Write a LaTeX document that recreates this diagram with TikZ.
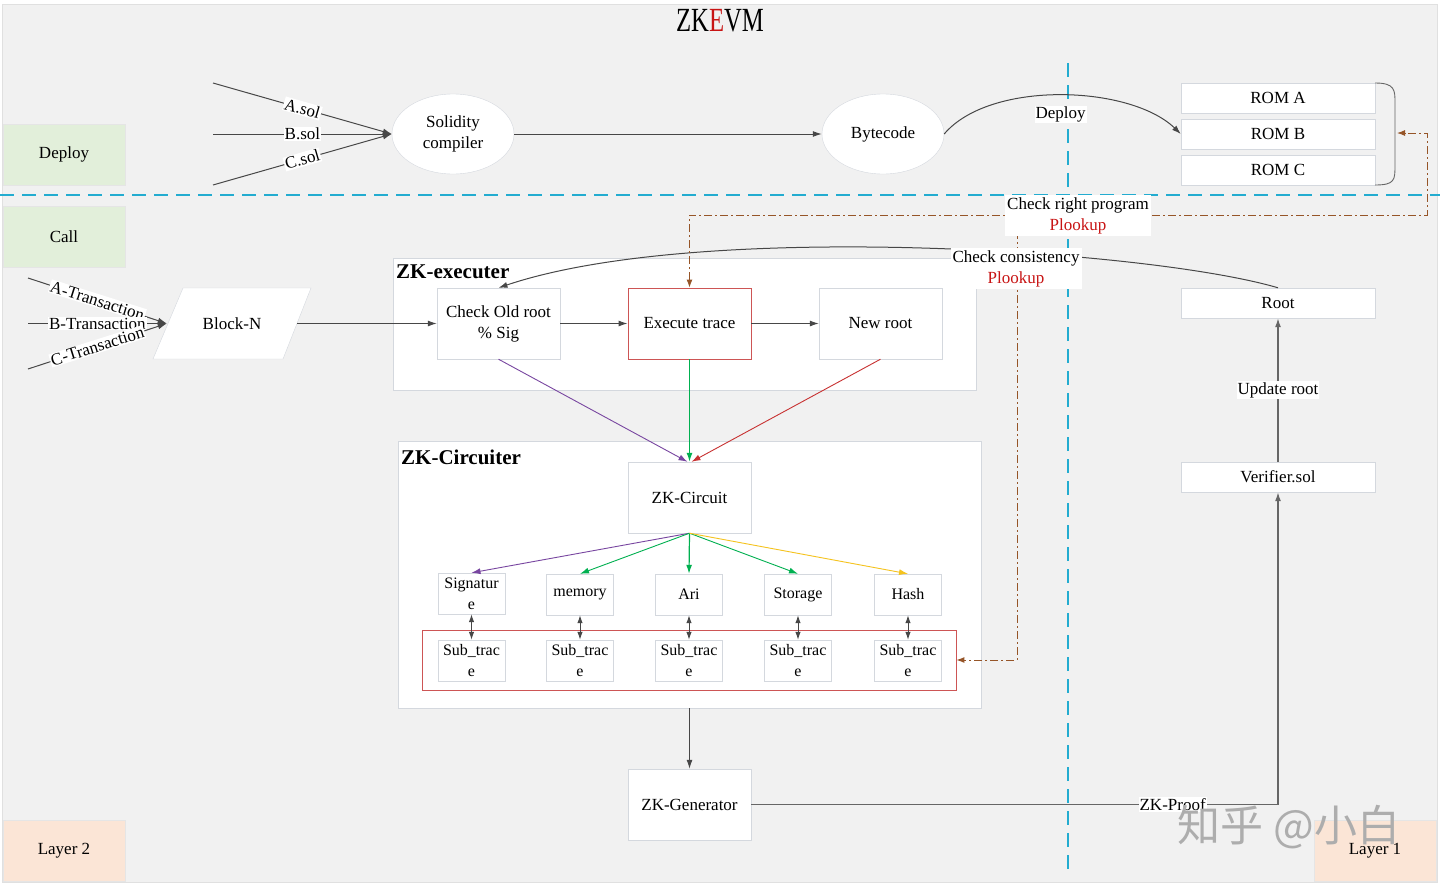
\documentclass[tikz,border=0pt]{standalone}
\usepackage{fontspec}
\usepackage{graphicx}
\setmainfont{Liberation Serif}
\newfontfamily\cjk{Noto Sans CJK SC}
\usetikzlibrary{arrows.meta,shapes.geometric}
\definecolor{bgc}{RGB}{241,241,241}
\definecolor{boxline}{RGB}{212,216,222}
\definecolor{execred}{RGB}{205,85,85}
\definecolor{brn}{RGB}{150,85,40}
\definecolor{cyanl}{RGB}{35,172,208}
\definecolor{greenf}{RGB}{226,239,218}
\definecolor{peach}{RGB}{251,229,214}
\definecolor{plk}{RGB}{200,20,20}
\definecolor{purp}{RGB}{120,70,160}
\definecolor{grn}{RGB}{0,176,80}
\definecolor{redl}{RGB}{200,50,50}
\definecolor{yel}{RGB}{245,195,30}
\newcommand\fs{\fontsize{17}{21}\selectfont}
\begin{document}
\begin{tikzpicture}[x=1pt,y=-1pt,
  font=\fs,
  tip/.style={-{Latex[length=9pt,width=6pt]}},
  dtip/.style={{Latex[length=8pt,width=5.5pt]}-{Latex[length=8pt,width=5.5pt]}},
  conn/.style={draw=black!72, line width=1pt},
  bigbox/.style={draw=boxline, fill=white, minimum width=123, minimum height=71, align=center, inner sep=1pt},
  smallbox/.style={draw=boxline, fill=white, minimum width=67, minimum height=41, align=center, inner sep=0pt, font=\fontsize{16}{21}\selectfont},
  rombox/.style={draw=boxline, fill=white, minimum width=194, minimum height=30, inner sep=1pt},
  ell/.style={ellipse, draw=boxline, fill=white, minimum width=122, minimum height=80, align=center, inner sep=0pt},
  side/.style={draw=black!10, minimum width=122, minimum height=61, inner sep=1pt},
  cont/.style={draw=boxline, fill=white, inner sep=0pt},
  lbl/.style={fill=white, inner sep=1pt},
  lbl2/.style={fill=white, inner sep=2pt, align=center, font=\fontsize{17}{21}\selectfont},
  cyandash/.style={draw=cyanl, line width=2pt, dash pattern=on 14pt off 8pt},
  brnline/.style={draw=brn, line width=1pt, dash pattern=on 8pt off 3pt on 2pt off 3pt},
  brntip/.style={-{Latex[length=8pt,width=6pt]}},
  ctitle/.style={font=\bfseries\fontsize{21}{24}\selectfont, anchor=west, inner sep=0pt}
]
\useasboundingbox (0,0) rectangle (1440,886);
\fill[white] (0,0) rectangle (1440,886);
\draw[fill=bgc, draw=black!12] (2,4) rectangle (1437,882);

% title
\node (title) at (720,21) {\fontsize{26}{30}\selectfont\scalebox{0.95}[1.3]{ZK\textcolor{plk}{E}VM}};

% side boxes
\node[side, fill=greenf] (deploy) at (64,154.5) {Deploy};
\node[side, fill=greenf] (call) at (64,236.5) {Call};
\node[side, fill=peach] (l2) at (64,851) {Layer 2};
\node[side, fill=peach] (l1) at (1375,851) {Layer 1};

% dividers
\draw[cyandash] (0,195) -- (1440,195);
\draw[cyandash] (1068,63) -- (1068,875);

% containers
\node[cont, minimum width=583, minimum height=132] (exe) at (684.5,324) {};
\node[ctitle] (exet) at (396,272) {ZK-executer};
\node[cont, minimum width=583, minimum height=267] (cir) at (689.5,574.5) {};
\node[ctitle] (cirt) at (401,457) {ZK-Circuiter};
\node[draw=execred, line width=0.9pt, minimum width=534, minimum height=60, inner sep=0pt] (subs) at (689,660) {};

% ellipses
\node[ell] (sol) at (453,134) {Solidity\\compiler};
\node[ell] (byte) at (883,134) {Bytecode};

% ROMs
\node[rombox] (roma) at (1278,98) {ROM A};
\node[rombox] (romb) at (1278,134) {ROM B};
\node[rombox] (romc) at (1278,170) {ROM C};
\draw[draw=black!60, line width=0.9pt] (1375,83) .. controls (1395,83) and (1395,90) .. (1395,103) -- (1395,165) .. controls (1395,180) and (1395,185) .. (1375,185);
\coordinate (brk) at (1397,133);

% layer 1 boxes
\node[rombox] (root) at (1278,303) {Root};
\node[rombox] (ver) at (1278,477) {Verifier.sol};

% executer
\node[bigbox] (old) at (498.5,323.5) {Check Old root\\\% Sig};
\node[bigbox, draw=execred, line width=0.9pt] (exec) at (689.5,323.5) {Execute trace};
\node[bigbox] (newr) at (880.5,323.5) {New root};

% block
\draw[draw=boxline, fill=white] (183,288) -- (311,288) -- (283,359) -- (153,359) -- cycle;
\node[minimum width=130, minimum height=71, inner sep=0pt] (blk) at (232,323.5) {Block-N};

% circuiter
\node[bigbox] (circ) at (689.5,497.5) {ZK-Circuit};
\node[smallbox] (sig) at (471.5,593.5) {Signatur\\e};
\node[smallbox] (mem) at (580,594.5) {memory};
\node[smallbox] (ari) at (689,594.5) {Ari};
\node[smallbox] (sto) at (798,594.5) {Storage};
\node[smallbox] (hash) at (908,594.5) {Hash};
\node[smallbox] (s1) at (471.5,660.5) {Sub\_trac\\e};
\node[smallbox] (s2) at (580,660.5) {Sub\_trac\\e};
\node[smallbox] (s3) at (689,660.5) {Sub\_trac\\e};
\node[smallbox] (s4) at (798,660.5) {Sub\_trac\\e};
\node[smallbox] (s5) at (908,660.5) {Sub\_trac\\e};

% generator
\node[bigbox] (gen) at (689.5,804.5) {ZK-Generator};

% inputs to solidity compiler
\coordinate (a1) at (213,83);
\coordinate (b1) at (213,134);
\coordinate (c1) at (213,185);
\draw[conn, tip] (a1) -- (sol.west) node[lbl, pos=0.5, rotate=-16] {A.sol};
\draw[conn, tip] (b1) -- (sol.west) node[lbl, pos=0.5] {B.sol};
\draw[conn, tip] (c1) -- (sol.west) node[lbl, pos=0.5, rotate=16] {C.sol};
\draw[conn, tip] (sol.east) -- (byte.west);
\draw[conn, tip] (byte.east) .. controls (990,80) and (1130,85) .. (romb.west) node[lbl, pos=0.5, below=10pt] {Deploy};

% transactions
\coordinate (ta) at (28,278);
\coordinate (tb) at (28,323.5);
\coordinate (tc) at (28,369);
\draw[conn, tip] (ta) -- (blk.west) node[lbl, pos=0.5, rotate=-17.5] {A-Transaction};
\draw[conn, tip] (tb) -- (blk.west) node[lbl, pos=0.5] {B-Transaction};
\draw[conn, tip] (tc) -- (blk.west) node[lbl, pos=0.5, rotate=17.5] {C-Transaction};

% executer flow
\draw[conn, tip] (blk.east) -- (old.west);
\draw[conn, tip] (old.east) -- (exec.west);
\draw[conn, tip] (exec.east) -- (newr.west);
\draw[draw=purp, line width=0.9pt, tip] (old.south) -- ([xshift=-2pt]circ.north);
\draw[draw=redl, line width=0.9pt, tip] (newr.south) -- ([xshift=2pt]circ.north);
\draw[draw=grn, line width=1.3pt, tip] (exec.south) -- (circ.north);

% circuit fan-out
\draw[draw=purp, line width=0.9pt, tip] (circ.south) -- (sig.north);
\draw[draw=grn, line width=0.9pt, tip] (circ.south) -- (mem.north);
\draw[draw=grn, line width=1.2pt, tip] (circ.south) -- (ari.north);
\draw[draw=grn, line width=0.9pt, tip] (circ.south) -- (sto.north);
\draw[draw=yel, line width=0.9pt, tip] (circ.south) -- (hash.north);
\draw[conn, dtip] (sig.south) -- (s1.north);
\draw[conn, dtip] (mem.south) -- (s2.north);
\draw[conn, dtip] (ari.south) -- (s3.north);
\draw[conn, dtip] (sto.south) -- (s4.north);
\draw[conn, dtip] (hash.south) -- (s5.north);

% generator and proof
\draw[conn, tip] (cir.south) -- (gen.north);
\draw[conn, tip, line width=1.4pt, draw=black!60] (gen.east) -| node[lbl, pos=0.4] {ZK-Proof} (ver.south);
\draw[conn, tip, line width=1.4pt, draw=black!60] (ver.north) -- node[lbl] {Update root} (root.south);

% check consistency curve
\draw[conn, tip] (root.north) .. controls (1150,250) and (700,220) .. (old.north);

% brown dash-dot links
\coordinate (cc) at (1017,215);
\draw[brnline, {Latex[length=8pt,width=6pt]}-{Latex[length=8pt,width=6pt]}] (exec.north) |- (1427,215) |- (brk);
\draw[brnline, brntip] (cc) |- (subs.east);

% labels
\node[lbl2] (crp) at (1078,215.5) {Check right program\\\textcolor{plk}{Plookup}};
\node[lbl2] (ccs) at (1016,268.5) {Check consistency\\\textcolor{plk}{Plookup}};

% watermark
\node[text=black!32, font=\cjk\fontsize{43}{43}\selectfont] (wm) at (1289,827) {知乎 @小白};
\end{tikzpicture}
\end{document}
